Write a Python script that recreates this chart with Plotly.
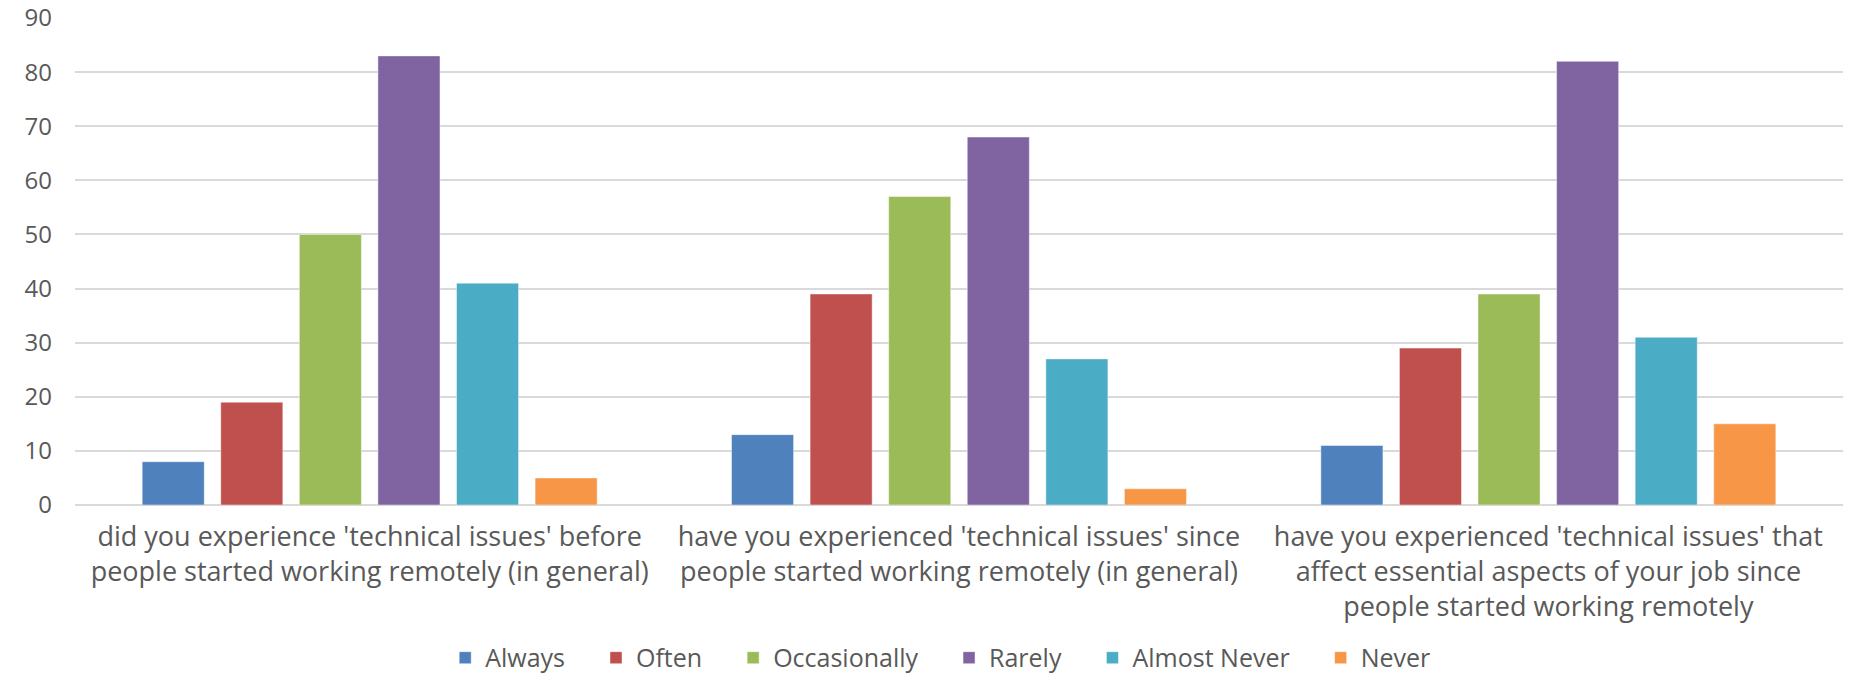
import plotly.graph_objects as go

categories = [
    "did you experience 'technical issues' before<br>people started working remotely (in general)",
    "have you experienced 'technical issues' since<br>people started working remotely (in general)",
    "have you experienced 'technical issues' that<br>affect essential aspects of your job since<br>people started working remotely",
]
series_names = ["Always", "Often", "Occasionally", "Rarely", "Almost Never", "Never"]
always = [8, 13, 11]
often = [19, 39, 29]
occasionally = [50, 57, 39]
rarely = [83, 68, 82]
almost_never = [41, 27, 31]
never = [5, 3, 15]
series_values = [always, often, occasionally, rarely, almost_never, never]
colors = ["#4F81BD", "#C0504D", "#9BBB59", "#8064A2", "#4BACC6", "#F79646"]
y_ticks = [0, 10, 20, 30, 40, 50, 60, 70, 80, 90]

TEXT = "#595959"
FONT = "Open Sans"
PAD = "\u00a0\u00a0\u00a0\u00a0"

fig = go.Figure()
for name, vals, col in zip(series_names, series_values, colors):
    fig.add_trace(go.Bar(
        x=categories, y=vals, name=name + PAD,
        marker=dict(color=col, line=dict(color="rgba(255,255,255,0.45)", width=1)),
    ))

fig.update_layout(
    width=1850, height=675,
    margin=dict(l=75, r=7, t=18, b=170, autoexpand=False),
    paper_bgcolor="white", plot_bgcolor="white",
    barmode="group", bargap=0.2, bargroupgap=0.21,
    font=dict(family=FONT, color=TEXT, size=26),
    showlegend=True,
    legend=dict(
        orientation="h", x=0.497, xanchor="center", y=-0.314, yanchor="middle",
        font=dict(family=FONT, size=25, color=TEXT),
        traceorder="normal",
    ),
)
fig.update_xaxes(
    showgrid=False, showline=False, zeroline=False,
    tickfont=dict(family=FONT, size=27, color=TEXT),
    ticks="", ticklabelstandoff=13,
)
fig.update_yaxes(
    range=[0, 90], tickvals=y_ticks,
    showgrid=True, gridcolor="#D9D9D9", gridwidth=2,
    zeroline=True, zerolinecolor="#D9D9D9", zerolinewidth=2,
    showline=False, ticks="",
    tickfont=dict(family=FONT, size=24, color=TEXT),
    ticklabelstandoff=22,
)

fig.write_html("out.html")
